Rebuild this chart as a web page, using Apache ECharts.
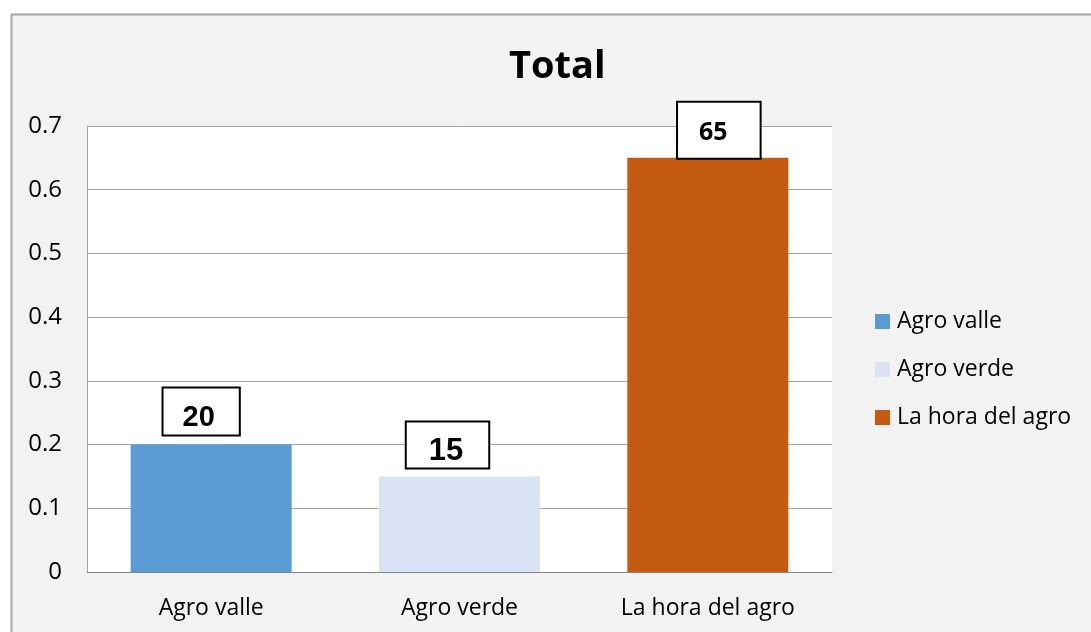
<!DOCTYPE html>
<html>
<head>
<meta charset="utf-8">
<script src="https://cdn.jsdelivr.net/npm/echarts@6/dist/echarts.min.js"></script>
<style>
html,body{margin:0;padding:0;background:#fff;}
#chart{width:1091px;height:632px;}
</style>
</head>
<body>
<div id="chart"></div>
<script>
// ---- data ----
var categories = ['Agro valle', 'Agro verde', 'La hora del agro'];
var values = [0.2, 0.15, 0.65];
var labelTexts = ['20', '15', '65'];
var yTicks = [0, 0.1, 0.2, 0.3, 0.4, 0.5, 0.6, 0.7];
var colors = ['#5b9bd5', '#dae3f3', '#c55a11'];

// label box styles per bar (presentation only)
var labelBoxes = [
  {fontFamily: 'Liberation Sans', fontSize: 29, padding: [15, 24, 2, 19], offset: [-10, -10]},
  {fontFamily: 'Liberation Sans', fontSize: 31, padding: [14, 25, 0, 22], offset: [-12, -9]},
  {fontFamily: 'Open Sans', fontSize: 25, padding: [18, 32, 12, 21], offset: [11, 0]}
];

var series = categories.map(function (name, i) {
  var d = categories.map(function (c, j) { return j === i ? values[i] : null; });
  var lb = labelBoxes[i];
  return {
    name: name,
    type: 'bar',
    data: d,
    barWidth: 161,
    barGap: '-100%',
    itemStyle: {color: colors[i]},
    label: {
      show: true,
      position: 'top',
      distance: 0,
      offset: lb.offset,
      formatter: function () { return labelTexts[i]; },
      fontFamily: lb.fontFamily,
      fontSize: lb.fontSize,
      fontWeight: 'bold',
      lineHeight: lb.fontSize,
      color: '#000',
      backgroundColor: '#fff',
      borderColor: '#000',
      borderWidth: 2,
      padding: lb.padding
    }
  };
});

var chart = echarts.init(document.getElementById('chart'), null, {renderer: 'canvas'});
chart.setOption({
  animation: false,
  backgroundColor: '#fff',
  textStyle: {fontFamily: 'Open Sans'},
  graphic: [{
    type: 'rect',
    z: -10,
    shape: {x: 11.5, y: 14.5, width: 1200, height: 800},
    style: {fill: '#f2f2f2', stroke: '#a6a6a6', lineWidth: 2}
  }],
  title: {
    text: 'Total',
    left: 504,
    top: 43,
    textStyle: {fontFamily: 'Open Sans', fontSize: 38, fontWeight: 'bold', color: '#000'}
  },
  legend: {
    orient: 'vertical',
    left: 870,
    top: 305,
    itemWidth: 15,
    itemHeight: 15,
    itemGap: 25,
    icon: 'rect',
    data: categories,
    textStyle: {fontFamily: 'Open Sans', fontSize: 23, color: '#000', lineHeight: 15, padding: [0, 0, 0, 2]}
  },
  grid: {
    left: 87, right: 259, top: 126, bottom: 60,
    show: true, backgroundColor: '#fff', borderWidth: 0
  },
  xAxis: {
    type: 'category',
    data: categories,
    axisTick: {show: false},
    axisLine: {lineStyle: {color: '#868686', width: 1}},
    axisLabel: {fontFamily: 'Open Sans', fontSize: 23, color: '#000', margin: 25}
  },
  yAxis: {
    type: 'value',
    min: yTicks[0],
    max: yTicks[yTicks.length - 1],
    interval: 0.1,
    axisLine: {show: true, lineStyle: {color: '#a6a6a6', width: 1}},
    axisTick: {show: false},
    splitLine: {lineStyle: {color: '#a6a6a6', width: 1}},
    axisLabel: {
      fontFamily: 'Open Sans', fontSize: 24, color: '#000', margin: 25,
      formatter: function (v) {
        var idx = Math.round(v * 10);
        return String(yTicks[idx]);
      }
    }
  },
  series: series
});
</script>
</body>
</html>
